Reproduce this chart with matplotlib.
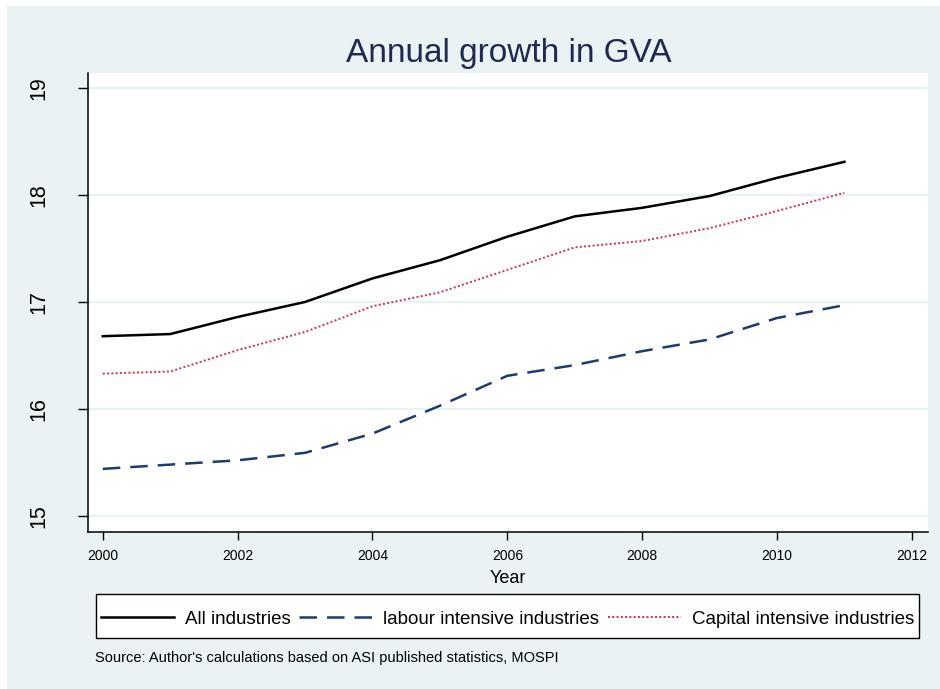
import matplotlib.pyplot as plt
from matplotlib.patches import Rectangle

years = [2000, 2001, 2002, 2003, 2004, 2005, 2006, 2007, 2008, 2009, 2010, 2011]
all_ind = [16.68, 16.70, 16.86, 17.00, 17.22, 17.39, 17.61, 17.80, 17.88, 17.99, 18.16, 18.31]
labour = [15.44, 15.48, 15.52, 15.59, 15.77, 16.03, 16.31, 16.41, 16.54, 16.65, 16.85, 16.97]
capital = [16.33, 16.35, 16.55, 16.72, 16.96, 17.09, 17.30, 17.51, 17.57, 17.69, 17.85, 18.02]

plt.rcParams['font.family'] = ['Liberation Sans', 'DejaVu Sans']

W, H = 940, 689
bg = '#eaf2f3'
fig = plt.figure(figsize=(W / 100, H / 100), dpi=100)
fig.patch.set_facecolor('white')
fig.patches.append(Rectangle((7 / W, 0), 1, 1 - 6 / H, transform=fig.transFigure,
                             facecolor=bg, edgecolor='none', zorder=-10))

# plot area in pixels: x 88..928, y 73..532
ax = fig.add_axes([88 / W, 1 - 532 / H, (928 - 88) / W, (532 - 73) / H])
ax.set_facecolor('white')

ax.plot(years, all_ind, color='black', lw=1.8, label='All industries')
ax.plot(years, labour, color='#1f3a6e', lw=1.8, ls=(0, (7, 4)), label='labour intensive industries')
ax.plot(years, capital, color='#d0304f', lw=1.4, ls=(0, (1, 1.2)), label='Capital intensive industries')

ax.set_xlim(1999.78, 2012.24)
ax.set_ylim(14.85, 19.14)
ax.set_xticks(range(2000, 2013, 2))
ax.set_yticks([15, 16, 17, 18, 19])
ax.grid(axis='y', color=bg, lw=1.6)
ax.set_axisbelow(True)
for s in ['top', 'right']:
    ax.spines[s].set_visible(False)
ax.spines['left'].set_linewidth(1.1)
ax.spines['bottom'].set_linewidth(1.1)
ax.tick_params(axis='x', length=6, width=1, labelsize=10, pad=6)
ax.tick_params(axis='y', length=7, width=1, labelsize=15.5, pad=21)
for lab in ax.get_yticklabels():
    lab.set_rotation(90)
    lab.set_va('center')

ax.set_xlabel('Year', fontsize=13, labelpad=5)
fig.text(509 / W, 1 - 62 / H, 'Annual growth in GVA', ha='center', va='baseline',
         fontsize=24, color='#1f2a4f')

# legend box drawn separately (Stata-like padding)
fig.patches.append(Rectangle((96 / W, 1 - 638 / H), (919 - 96) / W, 44 / H,
                             transform=fig.transFigure, facecolor='white',
                             edgecolor='black', lw=1.0, zorder=1))
leg = fig.legend(loc='center', bbox_to_anchor=(507.5 / W, 1 - 619 / H), ncol=3,
                 frameon=False, fontsize=13.5,
                 handlelength=3.9, columnspacing=0.45, handletextpad=0.6,
                 borderpad=0.2)
leg.set_zorder(2)

fig.text(95 / W, 1 - 658 / H, "Source: Author's calculations based on ASI published statistics, MOSPI",
         fontsize=10.5, va='center', ha='left')

fig.savefig('out.png', dpi=100, facecolor=fig.get_facecolor())
